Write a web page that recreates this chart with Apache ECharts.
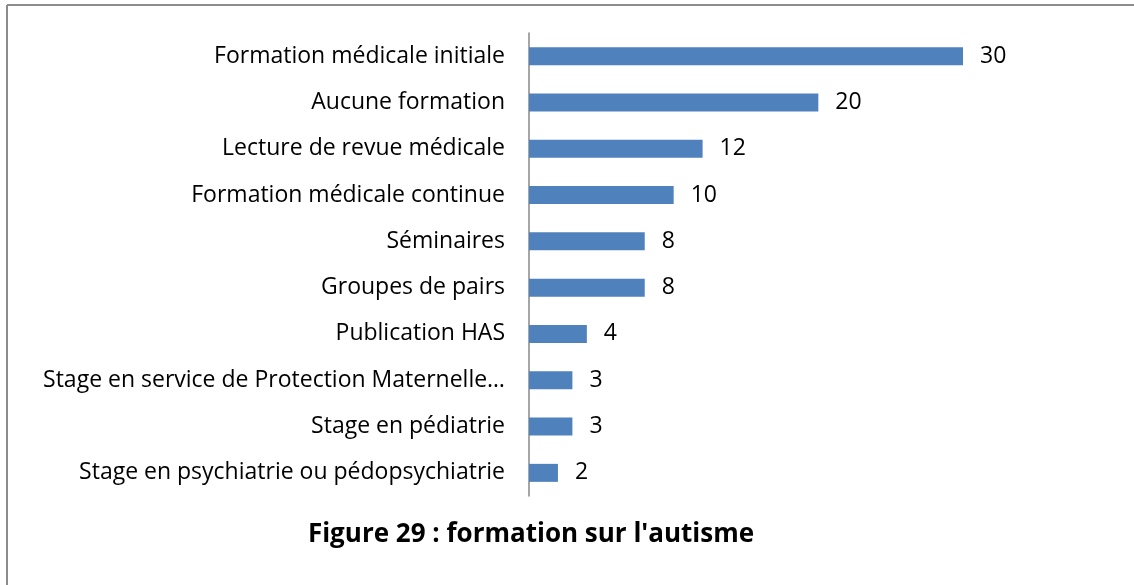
<!DOCTYPE html>
<html>
<head>
<meta charset="utf-8">
<script src="https://cdn.jsdelivr.net/npm/echarts@6/dist/echarts.min.js"></script>
<style>
  html, body { margin: 0; padding: 0; background: #fff; }
  #chart { width: 1134px; height: 585px; }
</style>
</head>
<body>
<div id="chart"></div>
<script>
// categories, top to bottom as in the figure
const categories = [
  'Formation médicale initiale',
  'Aucune formation',
  'Lecture de revue médicale',
  'Formation médicale continue',
  'Séminaires',
  'Groupes de pairs',
  'Publication HAS',
  'Stage en service de Protection Maternelle…',
  'Stage en pédiatrie',
  'Stage en psychiatrie ou pédopsychiatrie'
]
const values = [30, 20, 12, 10, 8, 8, 4, 3, 3, 2]
const titleText = "Figure 29 : formation sur l'autisme"

const font = '"Open Sans", sans-serif'

const chart = echarts.init(document.getElementById('chart'))
chart.setOption({
  animation: false,
  title: {
    text: titleText,
    left: 526,
    textAlign: 'center',
    top: 517,
    textStyle: {
      fontFamily: font,
      fontSize: 26,
      fontWeight: 'bold',
      color: '#000'
    }
  },
  grid: {
    left: 529,
    top: 33,
    width: 434,
    height: 463
  },
  xAxis: {
    type: 'value',
    min: 0,
    max: 30,
    show: false
  },
  yAxis: {
    type: 'category',
    inverse: true,
    data: categories,
    axisLine: { lineStyle: { color: '#888', width: 1.5 } },
    axisTick: { show: false },
    axisLabel: {
      margin: 24,
      padding: [5, 0, 0, 0],
      fontFamily: font,
      fontSize: 23,
      color: '#000'
    }
  },
  series: [
    {
      type: 'bar',
      data: values,
      barWidth: 18,
      itemStyle: { color: '#4f81bd' },
      label: {
        show: true,
        position: 'right',
        distance: 17,
        padding: [5, 0, 0, 0],
        fontFamily: font,
        fontSize: 23,
        color: '#000'
      }
    }
  ],
  graphic: [
    {
      type: 'line',
      shape: { x1: 7, y1: 5, x2: 1134, y2: 5 },
      style: { stroke: '#8c8c8c', lineWidth: 2 }
    },
    {
      type: 'line',
      shape: { x1: 7, y1: 5, x2: 7, y2: 585 },
      style: { stroke: '#8c8c8c', lineWidth: 2 }
    }
  ]
})
</script>
</body>
</html>
